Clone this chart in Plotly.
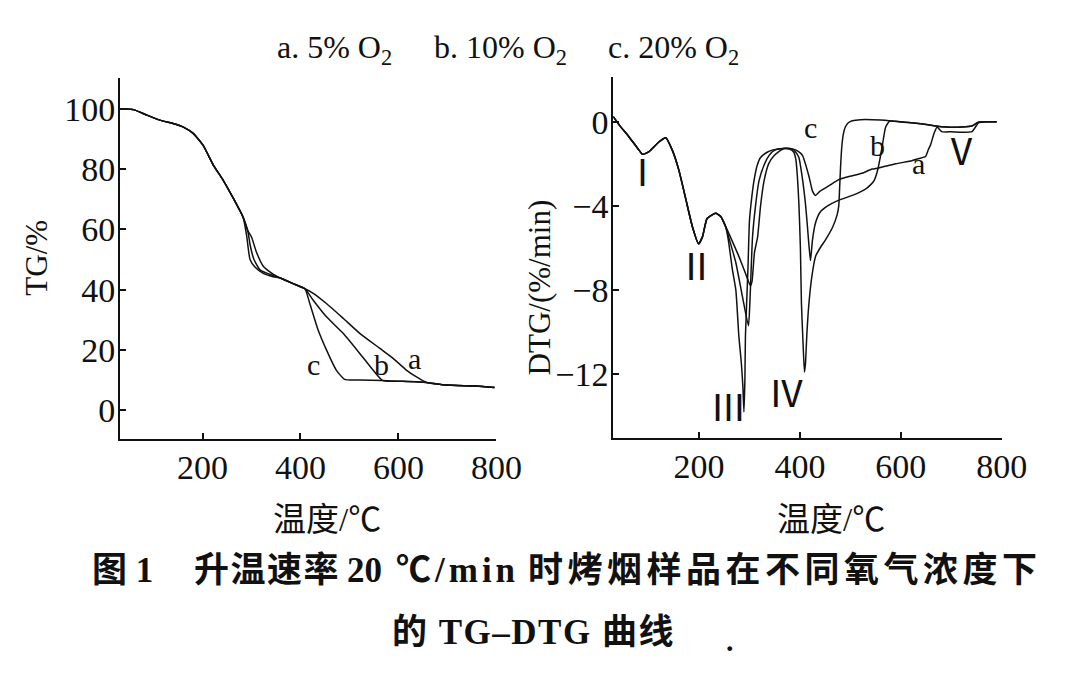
import plotly.graph_objects as go

# ---------------- data ----------------
# TG curves (temperature in degC, mass %)
tg_a_x = [31.5, 45, 59, 86, 113, 140, 161, 181, 201, 222, 242, 263, 283, 293, 300, 310, 324, 344, 360, 385, 409,
          426, 453, 487, 521, 562, 589, 616, 636, 657, 697, 759, 796]
tg_a_y = [100, 100, 99.8, 98, 96.3, 95.2, 94, 91.9, 88, 81.4, 76.4, 70.3, 64, 59.5, 57.5, 52.5, 47.8, 45.2, 43.8, 42, 40.3,
          38.8, 35.4, 30.5, 25.5, 20.5, 17.2, 13.3, 11.1, 9.2, 8.3, 8.0, 7.5]
tg_b_x = [31.5, 45, 59, 86, 113, 140, 161, 181, 201, 222, 242, 263, 283, 293, 297, 305, 318, 344, 360, 385, 409,
          426, 453, 487, 521, 548, 568, 600, 657, 697, 759, 796]
tg_b_y = [100, 100, 99.8, 98, 96.3, 95.2, 94, 91.9, 88, 81.4, 76.4, 70.3, 64, 59, 55, 50, 46.5, 44.7, 43.8, 42, 40.3,
          36.5, 31, 25.5, 18.8, 13.3, 9.8, 9.6, 9.2, 8.3, 8.0, 7.5]
tg_c_x = [31.5, 45, 59, 86, 113, 140, 161, 181, 201, 222, 242, 263, 283, 290, 297, 307, 324, 344, 360, 385, 409,
          419, 436, 453, 473, 490, 521, 568, 600, 657, 697, 759, 796]
tg_c_y = [100, 100, 99.8, 98, 96.3, 95.2, 94, 91.9, 88, 81.4, 76.4, 70.3, 64, 58, 50, 47.5, 45.4, 44.3, 43.8, 42, 40.3,
          35.4, 26.6, 20, 13.3, 10.2, 10, 9.8, 9.6, 9.2, 8.3, 8.0, 7.5]

# DTG curves (temperature in degC, %/min)
dtg_common_x = [30, 42, 61, 81, 88, 101, 121, 134, 147, 160, 174, 187, 199, 207, 216, 233, 243, 253]
dtg_common_y = [0.24, -0.16, -0.71, -1.35, -1.55, -1.42, -0.95, -0.76, -1.35, -2.3, -3.7, -5.0, -5.8, -5.46, -4.6,
                -4.35, -4.5, -5.0]
dtg_a_x = dtg_common_x + [259, 270, 279, 292, 302, 305, 310, 316, 322, 329, 338, 349, 368, 385, 396, 405, 418, 425,
                          431, 440, 457, 477, 490, 523, 543, 556, 590, 622, 636, 649, 655, 659, 666, 672, 681, 700,
                          741, 754, 770, 790]
dtg_a_y = dtg_common_y + [-5.3, -5.9, -6.4, -7.2, -7.8, -7.6, -6.2, -5.5, -4.0, -2.8, -2.0, -1.6, -1.27, -1.3, -1.4,
                          -1.6, -2.6, -3.3, -3.5, -3.3, -3.05, -2.75, -2.65, -2.45, -2.25, -2.2, -2.0, -1.85, -1.75,
                          -1.65, -1.3, -1.1, -0.55, -0.25, -0.47, -0.48, -0.47, -0.05, 0.0, 0.0]
dtg_b_x = dtg_common_x + [259, 273, 286, 298, 301, 306, 312, 319, 330, 339, 350, 368, 385, 392, 398, 405, 411, 415,
                          418, 421, 425, 431, 440, 455, 475, 504, 530, 540, 547, 553, 556, 563, 570, 578, 600, 622,
                          650, 669, 690, 720, 741, 754, 770, 790]
dtg_b_y = dtg_common_y + [-5.5, -6.7, -8.3, -9.7, -8.5, -5.5, -4.0, -2.8, -2.0, -1.6, -1.35, -1.27, -1.3, -1.45, -1.7,
                          -2.7, -3.9, -5.0, -5.9, -6.6, -5.6, -4.8, -4.3, -4.0, -3.75, -3.5, -3.2, -3.0, -2.8, -2.4,
                          -2.1, -1.2, -0.25, 0.03, 0.0, -0.05, -0.13, -0.2, -0.25, -0.25, -0.2, -0.02, 0.0, 0.0]
dtg_c_x = dtg_common_x + [258, 266, 273, 279, 284, 287, 289, 291, 292, 297, 300, 305, 309, 315, 322, 335, 345, 368,
                          380, 388, 392, 395, 398, 401, 403, 406, 409, 411, 414, 418, 424, 431, 440, 451, 465, 474,
                          477, 479, 480.5, 483, 486, 490, 496, 504, 520, 560, 596, 642, 669, 690, 720, 741, 754, 770,
                          790]
dtg_c_y = dtg_common_y + [-5.6, -7.0, -8.0, -10.2, -11.5, -12.6, -13.8, -12.2, -10.2, -7.0, -4.7, -3.5, -2.8, -2.1,
                          -1.7, -1.45, -1.35, -1.27, -1.3, -1.45, -1.8, -2.6, -3.9, -6.0, -8.6, -10.4, -11.9, -11.5,
                          -10.0, -8.6, -7.3, -6.4, -6.0, -5.6, -5.0, -4.4, -4.0, -3.0, -2.2, -1.2, -0.6, -0.25, -0.05,
                          0.05, 0.1, 0.08, 0.0, -0.1, -0.2, -0.25, -0.25, -0.2, -0.02, 0.0, 0.0]

# tick labels
tg_ticks = [0, 20, 40, 60, 80, 100]
dtg_ticks = [-12, -8, -4, 0]
temp_ticks = [200, 400, 600, 800]

# curve labels
tg_lbl_text = ["c", "b", "a"]
tg_lbl_x = [426, 565, 633]
tg_lbl_y = [15, 15, 17.2]
dtg_lbl_text = ["Ⅰ", "Ⅱ", "Ⅲ", "Ⅳ", "Ⅴ"]
dtg_lbl_x = [88, 195, 259, 373, 721]
dtg_lbl_y = [-2.3, -6.76, -13.46, -12.78, -1.3]
dtg_letter_text = ["c", "b", "a"]
dtg_letter_x = [421, 553, 636]
dtg_letter_y = [-0.27, -1.11, -1.98]

legend_items = ["a. 5% O<sub>2</sub>", "b. 10% O<sub>2</sub>", "c. 20% O<sub>2</sub>"]

# ---------------- layout helpers ----------------
OFF = 8
K = 1.0235
W, H = 1080 - 2 * OFF, 676 - 2 * OFF


def px(xw):
    return (xw * K - OFF) / W


def py(yw):
    return 1 - (yw - OFF) / H


SERIF = "Liberation Serif, Noto Sans CJK SC"
CJK = "Noto Sans CJK SC"
BLACK = "#111111"
line = dict(color=BLACK, width=1.5, shape="spline", smoothing=0.5)

fig = go.Figure()
for xs, ys in [(tg_a_x, tg_a_y), (tg_b_x, tg_b_y), (tg_c_x, tg_c_y)]:
    fig.add_trace(go.Scatter(x=xs, y=ys, mode="lines", line=line, xaxis="x", yaxis="y", showlegend=False))
for xs, ys in [(dtg_a_x, dtg_a_y), (dtg_b_x, dtg_b_y), (dtg_c_x, dtg_c_y)]:
    fig.add_trace(go.Scatter(x=xs, y=ys, mode="lines", line=line, xaxis="x2", yaxis="y2", showlegend=False))

axis_common = dict(showgrid=False, zeroline=False, showline=True, linecolor=BLACK, linewidth=2,
                   ticks="inside", ticklen=6, tickwidth=1.5, tickcolor=BLACK,
                   tickfont=dict(family=SERIF, size=34, color=BLACK))

fig.update_layout(
    width=W, height=H, margin=dict(l=0, r=0, t=0, b=0),
    paper_bgcolor="white", plot_bgcolor="white",
    xaxis=dict(domain=[px(120), px(497)], range=[31.6, 800], tickvals=temp_ticks, anchor="y",
               ticklabelstandoff=-3, **axis_common),
    yaxis=dict(domain=[py(439), py(78)], range=[-9.6, 110.3], tickvals=tg_ticks + [110.3],
               ticktext=[str(v) for v in tg_ticks] + [""], anchor="x", ticklabelstandoff=-4, **axis_common),
    xaxis2=dict(domain=[px(614), px(1003)], range=[30, 800], tickvals=temp_ticks, anchor="y2",
                ticklabelstandoff=-3, **axis_common),
    yaxis2=dict(domain=[py(438), py(76.7)], range=[-15.03, 2.14], tickvals=dtg_ticks + [2.14],
                ticktext=["\u2212" + str(-v) if v < 0 else str(v) for v in dtg_ticks] + [""], anchor="x2",
                ticklabelstandoff=-4, **axis_common),
)


def note(text, x, y, xref="paper", yref="paper", size=30, family=SERIF, xanchor="center", angle=0):
    return dict(text=text, x=x, y=y, xref=xref, yref=yref, xanchor=xanchor, yanchor="middle", showarrow=False,
                textangle=angle, font=dict(family=family, size=size, color=BLACK))


ann = []
# legend line at top
for txt, xl in zip(legend_items, [275, 432, 607]):
    ann.append(note(txt, px(xl), py(50), size=32, xanchor="left"))
# axis titles
ann.append(note("TG/%", px(35.5), py(258), size=31, angle=-90))
ann.append(note("DTG/(%/min)", px(540), py(287), size=31, angle=-90))
for xc in [327, 832]:
    ann.append(note("温度/℃", px(xc), py(520), size=33))
# curve labels
for t, x, y in zip(tg_lbl_text, tg_lbl_x, tg_lbl_y):
    ann.append(note(t, x, y, "x", "y", size=30))
for t, x, y in zip(dtg_lbl_text, dtg_lbl_x, dtg_lbl_y):
    ann.append(note(t, x, y, "x2", "y2", size=37, family=CJK))
for t, x, y in zip(dtg_letter_text, dtg_letter_x, dtg_letter_y):
    ann.append(note(t, x, y, "x2", "y2", size=30))
# caption, line 1 in segments
cap_segments = ["<b>图 1</b>",
                '<span style="letter-spacing:1.5px"><b>升温速率</b></span>',
                "<b>20</b>",
                '<span style="letter-spacing:4px"><b>℃/min</b></span>',
                '<span style="letter-spacing:4.5px"><b>时烤烟样品在不同氧气浓度下</b></span>']
for seg, xl in zip(cap_segments, [90, 192, 345, 394, 527]):
    ann.append(note(seg, px(xl), py(570), size=35, xanchor="left"))
ann.append(note('<span style="letter-spacing:1.5px"><b>的 TG–DTG 曲线</b></span>', px(390), py(632), size=35,
                xanchor="left"))
ann.append(note("<b>.</b>", px(731), py(640), size=30))
fig.update_layout(annotations=ann)

fig.write_html("out.html")
